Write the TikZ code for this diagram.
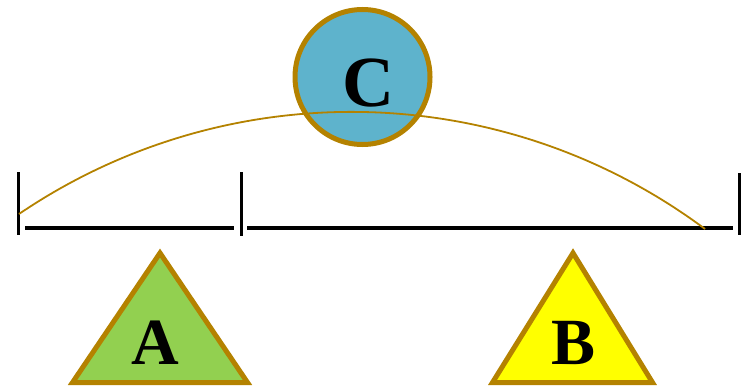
\documentclass[tikz,border=0pt]{standalone}
\usepackage{fontspec}
\setmainfont{Liberation Serif}
\usetikzlibrary{positioning}

\definecolor{gold}{RGB}{180,130,0}
\definecolor{cfill}{RGB}{94,179,204}
\definecolor{afill}{RGB}{146,208,80}
\definecolor{bfill}{RGB}{255,255,0}

\begin{document}
\begin{tikzpicture}[
    x=1pt, y=-1pt,
    tick/.style={line width=3pt},
    bar/.style={line width=3.5pt},
    tri/.style={draw=gold, line width=5pt, line join=miter},
    letter/.style={font=\bfseries\fontsize{66}{66}\selectfont, anchor=base, inner sep=0pt},
    ball/.style={circle, draw=gold, fill=cfill, line width=5pt, minimum size=135pt, inner sep=0pt},
    swing/.style={draw=gold, line width=1.8pt}
]
\useasboundingbox (0,0) rectangle (741,388);

% ticks and bars
\coordinate (tL) at (18.5,172);
\coordinate (tM) at (241,172);
\coordinate (tR) at (739,173);
\draw[tick] (tL) -- ++(0,63);
\draw[tick] (tM) -- ++(0,64);
\draw[tick] (tR) -- ++(0,62);
\coordinate (b1s) at (25,228);
\coordinate (b1e) at (234,228);
\coordinate (b2s) at (247,228);
\coordinate (b2e) at (733,228);
\draw[bar] (b1s) -- (b1e);
\draw[bar] (b2s) -- (b2e);

% triangles
\filldraw[tri, fill=afill] (160,253) -- (72.5,382.5) -- (247.5,382.5) -- cycle;
\filldraw[tri, fill=bfill] (573,253) -- (492.5,382.5) -- (652.5,382.5) -- cycle;
\node[letter] (A) at (155,364) {A};
\node[letter] (B) at (574,364) {B};

% ball
\node[ball] (C) at (362.5,77) {};
\node[letter, font=\bfseries\fontsize{72}{72}\selectfont] (Clab) at (368,106) {C};

% swing
\coordinate (sL) at (19,214);
\coordinate (sR) at (705,229);
\draw[swing] (sL) arc[start angle=124.15, end angle=53.35, radius=592.3pt];
\end{tikzpicture}
\end{document}
